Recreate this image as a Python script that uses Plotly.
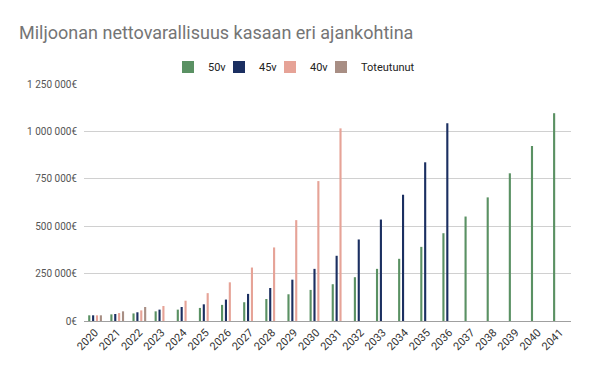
import plotly.graph_objects as go

years = [str(y) for y in range(2020, 2042)]

v50 = [30000, 35000, 40000, 51000, 60000, 69000, 85000, 99000, 116000, 141000, 164000,
       194000, 231000, 275000, 328000, 391000, 463000, 551000, 652000, 779000, 923000, 1096000]
v45 = [30000, 37000, 46000, 60000, 74000, 88000, 113000, 143000, 174000, 218000, 275000,
       344000, 430000, 535000, 666000, 837000, 1043000, None, None, None, None, None]
v40 = [30000, 42000, 56000, 79000, 107000, 147000, 204000, 282000, 388000, 532000, 738000,
       1016000] + [None] * 10
toteutunut = [30000, 51000, 74000] + [None] * 19

series_names = ["50v", "45v", "40v", "Toteutunut"]
series_values = [v50, v45, v40, toteutunut]
series_colors = ["#5a9163", "#1b2f61", "#e6a397", "#a88e84"]

y_tickvals = [0, 250000, 500000, 750000, 1000000, 1250000]
y_ticktext = ["0€", "250 000€", "500 000€", "750 000€", "1 000 000€", "1 250 000€"]

title_text = "Miljoonan nettovarallisuus kasaan eri ajankohtina"

W, H = 593, 367
legend_ids = ["legend", "legend2", "legend3", "legend4"]
legend_swatch_px = [188, 239, 290, 341]

fig = go.Figure()
for name, vals, col, lid in zip(series_names, series_values, series_colors, legend_ids):
    fig.add_trace(go.Bar(x=years, y=vals, name=name, legend=lid,
                         marker=dict(color=col, line=dict(width=0))))

legend_font = dict(family="Roboto, Arial, sans-serif", size=11, color="#222222")
legend_layout = {}
for lid, sx in zip(legend_ids, legend_swatch_px):
    legend_layout[lid] = dict(orientation="h", x=(sx - 20) / W, xanchor="left", xref="container",
                              y=1 - 67 / H, yanchor="middle", yref="container",
                              font=legend_font, itemwidth=30, bgcolor="rgba(0,0,0,0)",
                              borderwidth=0)

fig.update_layout(
    width=W, height=H,
    margin=dict(l=84, r=22, t=84, b=46, autoexpand=False),
    paper_bgcolor="white", plot_bgcolor="white",
    barmode="group", bargap=0.30, bargroupgap=0.45,
    title=dict(text=title_text, x=19 / W, xanchor="left", xref="container",
               y=1 - 33 / H, yanchor="middle", yref="container", automargin=False,
               font=dict(family="Roboto, Arial, sans-serif", size=18, color="#757575")),
    font=dict(family="Roboto, Arial, sans-serif"),
    showlegend=True,
    **legend_layout,
)
fig.update_xaxes(type="category", tickangle=-45, showgrid=False, showline=False, automargin=False,
                 tickfont=dict(size=11, color="#333333"), ticks="", ticklabelstandoff=2)
fig.update_yaxes(range=[0, 1250000], tickvals=y_tickvals, ticktext=y_ticktext, automargin=False,
                 showgrid=True, gridcolor="#d0d0d0", gridwidth=1,
                 zeroline=True, zerolinecolor="#a0a0a0", zerolinewidth=1,
                 tickfont=dict(size=10, color="#555555"), ticks="", ticklabelstandoff=6)

fig.write_html("out.html", config={"displayModeBar": False},
               post_script="document.body.style.margin='0';")
